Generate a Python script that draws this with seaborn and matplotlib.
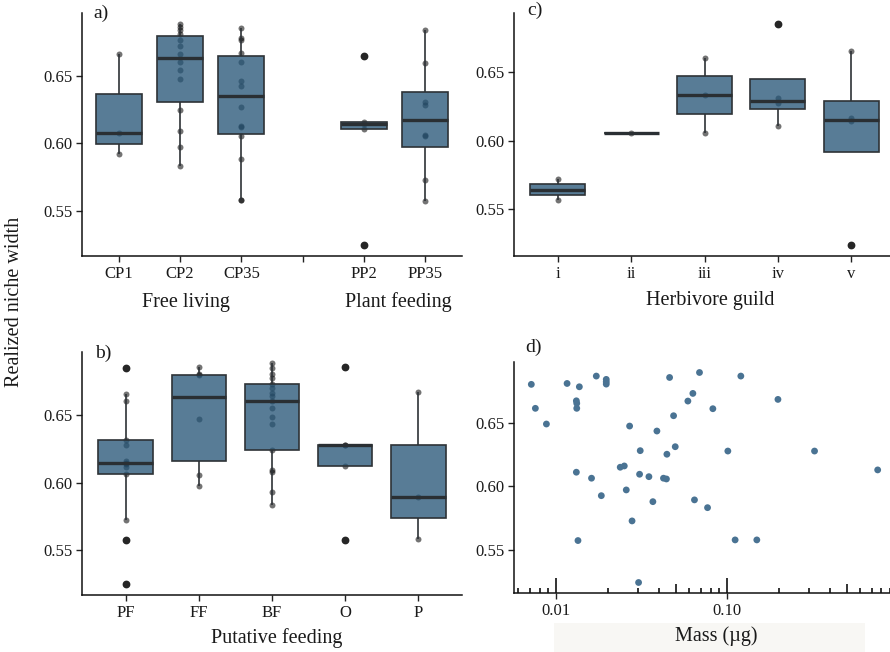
import numpy as np
import pandas as pd
import matplotlib
matplotlib.use("Agg")
import matplotlib.pyplot as plt
from matplotlib.patches import Rectangle
from matplotlib.ticker import FixedLocator, FixedFormatter, NullLocator
import seaborn as sns

# ---------------- data ----------------
# a) life style groups
cp1 = [0.592, 0.6075, 0.666]
cp2 = [0.583, 0.5973, 0.609, 0.6244, 0.648, 0.6544, 0.660, 0.6662, 0.6724,
       0.6766, 0.681, 0.684, 0.6864, 0.6884]
cp35 = [0.5579, 0.5579, 0.5887, 0.6052, 0.612, 0.613, 0.6268, 0.6428, 0.6465,
        0.660, 0.6667, 0.6766, 0.6781, 0.6855]
pp2 = [0.5247, 0.6106, 0.6146, 0.6155, 0.6645]
pp35 = [0.5574, 0.5725, 0.6056, 0.6059, 0.6281, 0.6305, 0.6596, 0.6842]
life_order = ["CP1", "CP2", "CP35", " ", "PP2", "PP35"]

# c) herbivore guilds
g_i = [0.5568, 0.5721]
g_ii = [0.6058]
g_iii = [0.6056, 0.6333, 0.6602]
g_iv = [0.6107, 0.6271, 0.6311, 0.6849]
g_v = [0.5241, 0.614, 0.6166, 0.665]
guild_order = ["i", "ii", "iii", "iv", "v"]

# b) putative feeding
f_pf = [0.5247, 0.5577, 0.5725, 0.6062, 0.6113, 0.6138, 0.6148, 0.6162, 0.628,
        0.6315, 0.6606, 0.6655, 0.6852]
f_ff = [0.5973, 0.6059, 0.647, 0.680, 0.6803, 0.6859]
f_bf = [0.5835, 0.5929, 0.6076, 0.6094, 0.6245, 0.6433, 0.6487, 0.6552, 0.6606,
        0.6640, 0.6667, 0.6700, 0.6729, 0.6778, 0.6810, 0.6850, 0.6888]
f_o = [0.5577, 0.6121, 0.6278, 0.6282, 0.6859]
f_p = [0.5579, 0.5891, 0.6674]
feed_order = ["PF", "FF", "BF", "O", "P"]

# d) body mass vs niche width
mass = [0.00714, 0.00754, 0.00875, 0.01156, 0.01364, 0.0131, 0.01317, 0.01317,
        0.01714, 0.0196, 0.0196, 0.0196, 0.0131, 0.01607, 0.01834, 0.01339,
        0.02685, 0.03098, 0.02366, 0.02499, 0.02567, 0.03071, 0.02775, 0.0303,
        0.03483, 0.03674, 0.03879, 0.04238, 0.0441, 0.04438, 0.04602, 0.04856,
        0.04966, 0.05888, 0.06298, 0.06435, 0.06886, 0.07674, 0.08244, 0.1009,
        0.1113, 0.1202, 0.1491, 0.1982, 0.3245, 0.760]
mass_width = [0.6801, 0.6613, 0.649, 0.6808, 0.6782, 0.6672, 0.6652, 0.6613,
              0.6866, 0.6840, 0.6821, 0.6803, 0.6112, 0.6065, 0.5928, 0.5576,
              0.6474, 0.6281, 0.6151, 0.6161, 0.5973, 0.6096, 0.5730, 0.5247,
              0.6077, 0.5881, 0.6435, 0.6065, 0.6059, 0.6253, 0.6855, 0.6555,
              0.6312, 0.6670, 0.6730, 0.5895, 0.6894, 0.5834, 0.6610, 0.6278,
              0.5581, 0.6866, 0.5581, 0.6683, 0.6278, 0.6130]

y_ticks = [0.55, 0.60, 0.65]

# ---------------- style ----------------
sns.set_style("ticks")
plt.rcParams["font.family"] = ["Liberation Serif", "DejaVu Serif"]
plt.rcParams["axes.linewidth"] = 1.1

BOX_FILL = (38 / 255, 85 / 255, 119 / 255, 0.77)
LINE_C = "#2d3236"
TXT = "#1a1a1a"
W, H = 890, 652


def fx(px):
    return px / W


def fy(py):
    return 1 - py / H


def long_df(groups, names):
    rows = []
    for n, vals in zip(names, groups):
        for v in vals:
            rows.append((n, v))
    return pd.DataFrame(rows, columns=["group", "width"])


def expand(vals, frac=0.05):
    lo, hi = min(vals), max(vals)
    r = hi - lo
    return lo - frac * r, hi + frac * r


def box_panel(ax, df, order, ticklabels):
    sns.stripplot(data=df, x="group", y="width", order=order, jitter=False,
                  color="black", alpha=0.55, size=4.3, linewidth=0, ax=ax,
                  zorder=1)
    sns.boxplot(data=df, x="group", y="width", order=order, color="#587d97",
                saturation=1, width=0.75, linewidth=1.2, linecolor=LINE_C,
                fliersize=4.6, showcaps=False,
                flierprops=dict(marker="o", markerfacecolor="#262626",
                                markeredgecolor="#262626"),
                medianprops=dict(color="#2a2f33", linewidth=2.4),
                ax=ax)
    for p in ax.patches:
        p.set_facecolor(BOX_FILL)
        p.set_edgecolor(LINE_C)
    n = len(order)
    ax.set_xlim(-0.6, n - 1 + 0.6)
    ax.set_ylim(*expand(df["width"].tolist()))
    ax.set_xticks(range(n))
    ax.set_xticklabels(ticklabels)
    ax.set_yticks(y_ticks)
    ax.set_yticklabels([f"{t:.2f}" for t in y_ticks])
    ax.set_xlabel("")
    ax.set_ylabel("")
    style_axes(ax)


def style_axes(ax):
    sns.despine(ax=ax)
    for s in ("left", "bottom"):
        ax.spines[s].set_color("#111111")
        ax.spines[s].set_linewidth(1.1)
    ax.tick_params(axis="both", direction="out", length=4, width=1.0,
                   color="#222222", labelsize=12, labelcolor=TXT, pad=3)


fig = plt.figure(figsize=(W / 100, H / 100), dpi=100)

ax_a = fig.add_axes([fx(82), fy(256), 380 / W, 243 / H])
ax_c = fig.add_axes([fx(514), fy(256), 381 / W, 243 / H])
ax_b = fig.add_axes([fx(82), fy(595), 380 / W, 243 / H])
ax_d = fig.add_axes([fx(514), fy(593), 381 / W, 231 / H])

# a)
df_a = long_df([cp1, cp2, cp35, pp2, pp35], ["CP1", "CP2", "CP35", "PP2", "PP35"])
box_panel(ax_a, df_a, life_order, ["CP1", "CP2", "CP35", "", "PP2", "PP35"])

# c)
df_c = long_df([g_i, g_ii, g_iii, g_iv, g_v], guild_order)
box_panel(ax_c, df_c, guild_order, guild_order)

# b)
df_b = long_df([f_pf, f_ff, f_bf, f_o, f_p], feed_order)
box_panel(ax_b, df_b, feed_order, feed_order)

# d)
df_d = pd.DataFrame({"mass": mass, "width": mass_width})
sns.scatterplot(data=df_d, x="mass", y="width", color="#4a7393", s=24,
                edgecolor="none", ax=ax_d)
ax_d.set_xscale("log")
lmin, lmax = np.log10(min(mass)), np.log10(max(mass))
lr = lmax - lmin
x0, x1 = 10 ** (lmin - 0.05 * lr), 10 ** (lmax + 0.05 * lr)
ax_d.set_xlim(x0, x1)
ax_d.set_ylim(*expand(mass_width))
ax_d.xaxis.set_major_locator(FixedLocator([0.01, 0.1]))
ax_d.xaxis.set_major_formatter(FixedFormatter(["0.01", "0.10"]))
ax_d.xaxis.set_minor_locator(NullLocator())
ax_d.set_yticks(y_ticks)
ax_d.set_yticklabels([f"{t:.2f}" for t in y_ticks])
ax_d.set_xlabel("")
ax_d.set_ylabel("")
style_axes(ax_d)
# log ticks (annotation_logticks style)
lt_vals, lt_len = [], []
for dec in range(-3, 1):
    for k in range(1, 10):
        v = k * 10.0 ** dec
        if x0 <= v <= x1:
            lt_vals.append(v)
            lt_len.append(15 if k == 1 else (9 if k == 5 else 5))
ax_d.vlines(lt_vals, 0, np.array(lt_len) / 231.0,
            transform=ax_d.get_xaxis_transform(), colors="#111111",
            linewidth=1.2, clip_on=False)

# axis titles and panel letters
fs_title = 14.5
fig.text(fx(186), fy(302), "Free living", ha="center", va="center",
         fontsize=fs_title, color=TXT)
fig.text(fx(398), fy(302), "Plant feeding", ha="center", va="center",
         fontsize=fs_title, color=TXT)
fig.text(fx(710), fy(300), "Herbivore guild", ha="center", va="center",
         fontsize=fs_title, color=TXT)
fig.text(fx(277), fy(638), "Putative feeding", ha="center", va="center",
         fontsize=fs_title, color=TXT)
fig.patches.append(Rectangle((fx(554), fy(652)), 311 / W, 29 / H,
                             transform=fig.transFigure, facecolor="#f8f7f4",
                             edgecolor="none", zorder=0))
fig.text(fx(716), fy(636), "Mass (µg)", ha="center", va="center",
         fontsize=fs_title, color=TXT)
fig.text(fx(15), fy(302), "Realized niche width", rotation=90, ha="center",
         va="center", fontsize=fs_title, color=TXT)

fs_letter = 14
fig.text(fx(93), fy(5), "a)", ha="left", va="top", fontsize=fs_letter, color=TXT)
fig.text(fx(527), fy(2), "c)", ha="left", va="top", fontsize=fs_letter, color=TXT)
fig.text(fx(95), fy(345), "b)", ha="left", va="top", fontsize=fs_letter, color=TXT)
fig.text(fx(525), fy(339), "d)", ha="left", va="top", fontsize=fs_letter, color=TXT)

fig.savefig("out.png", dpi=100)
